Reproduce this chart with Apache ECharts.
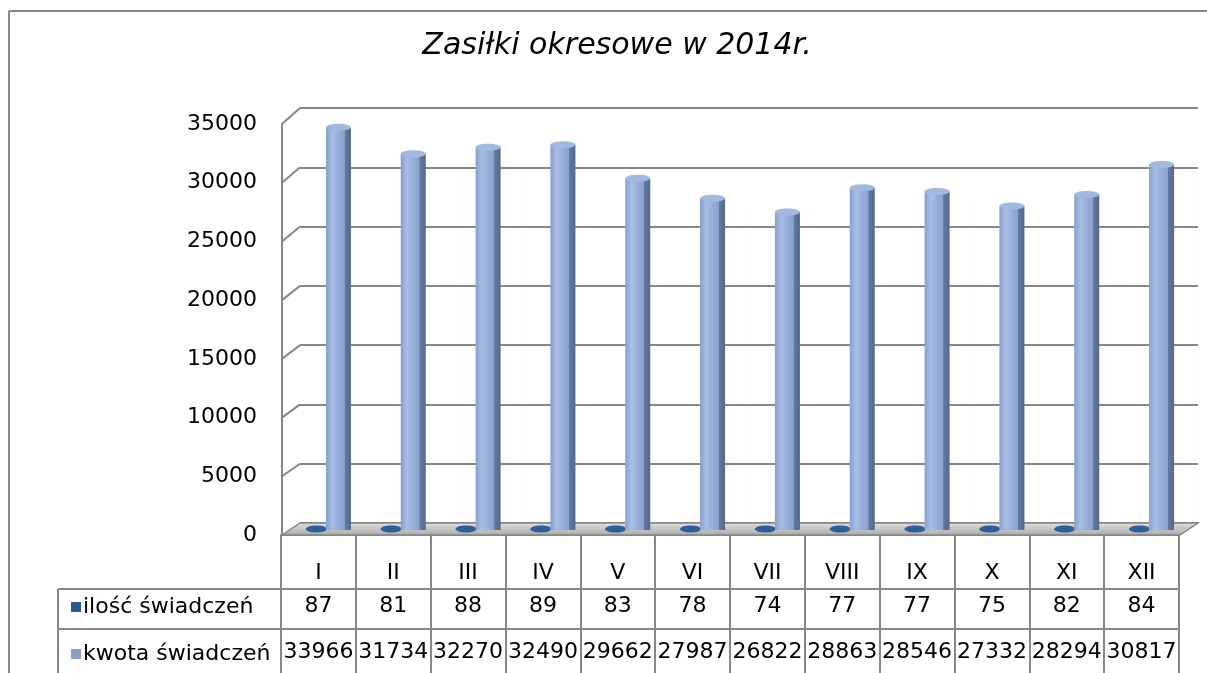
<!DOCTYPE html>
<html>
<head>
<meta charset="utf-8">
<title>Zasiłki okresowe w 2014r.</title>
<script src="https://cdn.jsdelivr.net/npm/echarts@6/dist/echarts.min.js"></script>
<style>
  html, body { margin: 0; padding: 0; background: #fff; }
  #chart { width: 1207px; height: 673px; }
</style>
</head>
<body>
<div id="chart"></div>
<script>
// data
const months = ['I', 'II', 'III', 'IV', 'V', 'VI', 'VII', 'VIII', 'IX', 'X', 'XI', 'XII']
const ilosc = [87, 81, 88, 89, 83, 78, 74, 77, 77, 75, 82, 84]
const kwota = [33966, 31734, 32270, 32490, 29662, 27987, 26822, 28863, 28546, 27332, 28294, 30817]
const seriesNames = ['ilość świadczeń', 'kwota świadczeń']
const yMin = 0
const yMax = 35000
const yStep = 5000

// layout (pixels)
const FRONT = { x: 282, top: 124, bottom: 535 }
const BACK = { x: 300, right: 1198, top: 108, bottom: 523 }
const BARS = { x: 301, right: 1199, top: 115, bottom: 530 }
const TABLE = { left: 58, x: 281, right: 1179, top: 535, row1: 589, row2: 629, bottom: 673 }
const FONT = 'DejaVu Sans'
const LINE = '#878787'

const myChart = echarts.init(document.getElementById('chart'))

// 3D-ish column drawn from the category/value scales
function column (offset, width, face, cap) {
  return function (params, api) {
    const top = api.coord([api.value(0), api.value(1)])
    const base = api.coord([api.value(0), 0])
    const x = top[0] + offset
    const h = Math.max(base[1] - top[1], 1)
    return {
      type: 'group',
      children: [
        {
          type: 'rect',
          shape: { x: x - width / 2, y: top[1], width: width, height: h },
          style: { fill: face }
        },
        {
          type: 'ellipse',
          shape: { cx: x, cy: top[1], rx: width / 2, ry: 3.5 },
          style: { fill: cap }
        }
      ]
    }
  }
}

const faceLight = {
  type: 'linear', x: 0, y: 0, x2: 1, y2: 0,
  colorStops: [
    { offset: 0, color: '#869fcc' },
    { offset: 0.25, color: '#a9bee4' },
    { offset: 0.55, color: '#93abd7' },
    { offset: 0.74, color: '#8aa2cf' },
    { offset: 0.76, color: '#64799f' },
    { offset: 1, color: '#55688c' }
  ]
}
const faceDark = {
  type: 'linear', x: 0, y: 0, x2: 1, y2: 0,
  colorStops: [
    { offset: 0, color: '#24507f' },
    { offset: 0.5, color: '#3a6698' },
    { offset: 1, color: '#1f4772' }
  ]
}

const tableLabel = { fontFamily: FONT, fontSize: 22, color: '#000', verticalAlign: 'middle', interval: 0 }

const option = {
  backgroundColor: '#fff',
  animation: false,
  title: {
    text: 'Zasiłki okresowe w 2014r.',
    left: 612,
    top: 26,
    textAlign: 'center',
    textStyle: { fontFamily: FONT, fontStyle: 'italic', fontWeight: 'normal', fontSize: 30, color: '#000' }
  },
  legend: {
    orient: 'vertical',
    left: 66,
    top: 591,
    icon: 'rect',
    itemWidth: 10,
    itemHeight: 10,
    itemGap: 25,
    selectedMode: false,
    textStyle: { fontFamily: FONT, fontSize: 22, lineHeight: 22, color: '#000', padding: [0, 0, 0, -3] },
    data: [
      { name: seriesNames[0], icon: 'rect', itemStyle: { color: '#2b5b90' } },
      { name: seriesNames[1], icon: 'rect', itemStyle: { color: '#8d9ec0' } }
    ]
  },
  grid: [
    { left: FRONT.x, top: FRONT.top, width: BACK.x - FRONT.x, height: FRONT.bottom - FRONT.top },
    { left: BACK.x, top: BACK.top, width: BACK.right - BACK.x, height: BACK.bottom - BACK.top },
    { left: BARS.x, top: BARS.top, width: BARS.right - BARS.x, height: BARS.bottom - BARS.top },
    { left: TABLE.x, top: TABLE.top - 1, width: TABLE.right - TABLE.x, height: 1 }
  ],
  xAxis: [
    { gridIndex: 0, type: 'value', show: false },
    { gridIndex: 1, type: 'category', data: months, show: false },
    { gridIndex: 2, type: 'category', data: months, show: false },
    {
      gridIndex: 3,
      type: 'category',
      data: months,
      position: 'bottom',
      axisLine: { show: true, lineStyle: { color: LINE, width: 2 } },
      axisTick: { show: true, interval: 0, length: TABLE.bottom - TABLE.top, lineStyle: { color: LINE, width: 2 } },
      axisLabel: Object.assign({ margin: 38 }, tableLabel)
    },
    {
      gridIndex: 3,
      type: 'category',
      data: ilosc.map(String),
      position: 'bottom',
      axisLine: { show: false },
      axisTick: { show: false },
      axisLabel: Object.assign({ margin: 71 }, tableLabel)
    },
    {
      gridIndex: 3,
      type: 'category',
      data: kwota.map(String),
      position: 'bottom',
      axisLine: { show: false },
      axisTick: { show: false },
      axisLabel: Object.assign({ margin: 117 }, tableLabel)
    }
  ],
  yAxis: [
    {
      gridIndex: 0,
      type: 'value',
      min: yMin,
      max: yMax,
      interval: yStep,
      axisLine: { show: true, lineStyle: { color: LINE, width: 2 } },
      axisTick: { show: false },
      splitLine: { show: false },
      axisLabel: { margin: 25, fontFamily: FONT, fontSize: 22, color: '#000', formatter: v => String(v) }
    },
    {
      gridIndex: 1,
      type: 'value',
      min: yMin,
      max: yMax,
      interval: yStep,
      axisLine: { show: false },
      axisTick: { show: false },
      axisLabel: { show: false },
      splitLine: { show: true, lineStyle: { color: LINE, width: 2 } }
    },
    { gridIndex: 2, type: 'value', min: yMin, max: yMax, interval: yStep, show: false, splitLine: { show: false } },
    { gridIndex: 3, type: 'value', show: false, splitLine: { show: false } }
  ],
  series: [
    {
      name: seriesNames[0],
      type: 'custom',
      xAxisIndex: 2,
      yAxisIndex: 2,
      z: 3,
      itemStyle: { color: '#2b5b90' },
      encode: { x: 0, y: 1 },
      renderItem: column(-22, 21, faceDark, '#2f5f96'),
      data: ilosc.map((v, i) => [i, v])
    },
    {
      name: seriesNames[1],
      type: 'custom',
      xAxisIndex: 2,
      yAxisIndex: 2,
      z: 3,
      itemStyle: { color: '#8d9ec0' },
      encode: { x: 0, y: 1 },
      renderItem: column(0, 25, faceLight, '#a3b8de'),
      data: kwota.map((v, i) => [i, v])
    }
  ]
}

myChart.setOption(option)

// decoration: frame, wall diagonals, floor, table lines
const graphics = []
const lineStyle = { stroke: LINE, lineWidth: 2 }
function line (x1, y1, x2, y2, z) {
  graphics.push({ type: 'line', z: z || 1, shape: { x1: x1, y1: y1, x2: x2, y2: y2 }, style: lineStyle })
}

line(9, 11, 9, 673)
line(9, 11, 1207, 11)

for (let v = yMin + yStep; v <= yMax; v += yStep) {
  const yf = myChart.convertToPixel({ yAxisIndex: 0 }, v)
  const yb = myChart.convertToPixel({ yAxisIndex: 1 }, v)
  line(FRONT.x, yf, BACK.x, yb)
}

graphics.push({
  type: 'polygon',
  z: 1,
  shape: {
    points: [
      [FRONT.x, FRONT.bottom], [BACK.x, BACK.bottom],
      [BACK.right, BACK.bottom], [BACK.right - (BACK.x - FRONT.x), FRONT.bottom]
    ]
  },
  style: {
    fill: {
      type: 'linear', x: 0, y: 0, x2: 0, y2: 1,
      colorStops: [
        { offset: 0, color: '#e2e2e2' },
        { offset: 1, color: '#a8a8a8' }
      ]
    },
    stroke: LINE,
    lineWidth: 1.5
  }
})

line(TABLE.left, TABLE.row1, TABLE.right, TABLE.row1)
line(TABLE.left, TABLE.row2, TABLE.right, TABLE.row2)
line(TABLE.left, TABLE.row1, TABLE.left, TABLE.bottom)

myChart.setOption({ graphic: graphics })
</script>
</body>
</html>
